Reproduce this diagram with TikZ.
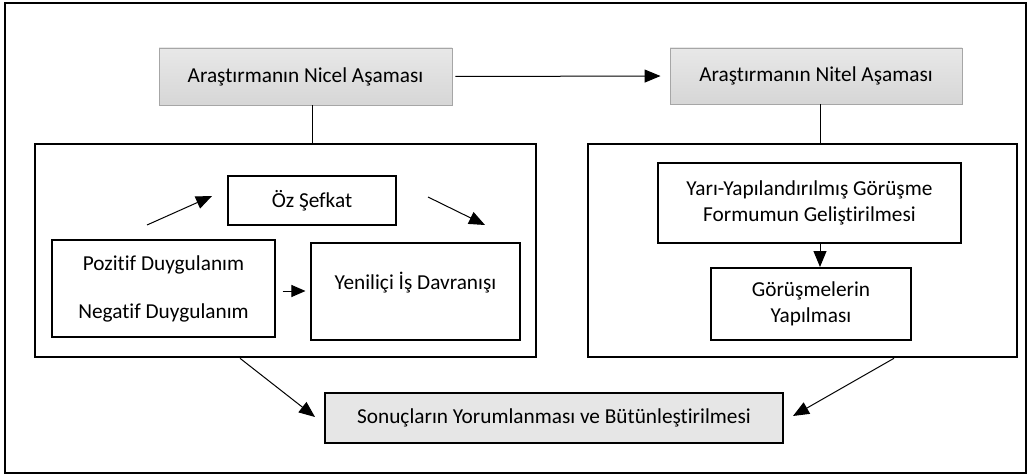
\documentclass[tikz,border=0pt]{standalone}
\usepackage{fontspec}
\setmainfont{Carlito}[Ligatures=NoCommon]
\usetikzlibrary{arrows.meta}
\definecolor{phaseborder}{HTML}{A6A6A6}
\definecolor{resultfill}{HTML}{E6E6E6}
\begin{document}
\begin{tikzpicture}[x=1pt,y=-1pt,
  every node/.style={font=\fontsize{21.3}{26}\selectfont, inner sep=0pt},
  phase/.style={draw=phaseborder, line width=0.9pt, top color=gray!18, bottom color=gray!32,
    minimum width=293pt, minimum height=57pt},
  container/.style={draw, line width=2.6pt},
  thinbox/.style={draw, line width=1.1pt},
  thickbox/.style={draw, line width=2pt, align=center},
  conn/.style={line width=1pt},
  arr/.style={line width=1pt, -{Triangle[length=16pt,width=13pt]}},
]
\useasboundingbox (0,0) rectangle (1034,476);
\node[draw, line width=1.2pt, minimum width=1021pt, minimum height=470pt] (frame) at (515.5,238) {};

\node[phase] (nicel) at (305.5,76.5) {Araştırmanın Nicel Aşaması};
\node[phase, minimum width=292pt, minimum height=56pt] (nitel) at (816,76) {Araştırmanın Nitel Aşaması};

\node[container, minimum width=501pt, minimum height=213pt] (lc) at (285.5,250.5) {};
\node[container, minimum width=429pt, minimum height=213pt] (rc) at (802.5,250.5) {};

\node[thinbox, minimum width=168pt, minimum height=49pt] (oz) at (312,200.5) {Öz Şefkat};
\node[thinbox, minimum width=223pt, minimum height=97pt] (poz) at (163.5,288.5) {};
\node (pozt) at (163.5,265) {Pozitif Duygulanım};
\node (negt) at (163.5,313) {Negatif Duygulanım};
\node[thinbox, minimum width=209pt, minimum height=97pt] (yen) at (415.5,291.5) {};
\node (yent) at (415.5,283) {Yeniliçi İş Davranışı};

\node[thickbox, minimum width=303pt, minimum height=80pt] (yari) at (809.5,203)
  {Yarı-Yapılandırılmış Görüşme\\Formumun Geliştirilmesi};
\node[thickbox, minimum width=200pt, minimum height=72pt] (gor) at (811,304)
  {Görüşmelerin\\Yapılması};

\node[thickbox, fill=resultfill, minimum width=458pt, minimum height=50pt] (son) at (554,418)
  {Sonuçların Yorumlanması ve Bütünleştirilmesi};

% connectors
\draw[arr, shorten <=3pt, shorten >=9pt] (nicel.east) -- (nitel.west);
\draw[conn] ([xshift=6.5pt]nicel.south) -- ([xshift=6.5pt]nicel.south |- lc.north);
\draw[conn] ([xshift=4pt]nitel.south) -- ([xshift=4pt]nitel.south |- rc.north);

\coordinate (a1s) at (147,225);
\coordinate (a1e) at (212,196);
\coordinate (a2s) at (428,197);
\coordinate (a2e) at (485,225);
\draw[arr] (a1s) -- (a1e);
\draw[arr] (a2s) -- (a2e);

\draw[arr, -{Triangle[length=14pt,width=12pt]}, shorten <=7pt, shorten >=5pt] (poz.east |- 0,291) -- (yen.west |- 0,291);

\draw[arr] ([xshift=10.5pt]yari.south) -- ([xshift=10.5pt]yari.south |- gor.north);

\coordinate (lend) at ([xshift=-9pt,yshift=1pt]son.west);
\coordinate (rend) at ([xshift=9pt,yshift=2pt]son.east);
\draw[arr] ([xshift=-45.5pt]lc.south) -- (lend);
\draw[arr] ([xshift=91.5pt]rc.south) -- (rend);
\end{tikzpicture}
\end{document}
